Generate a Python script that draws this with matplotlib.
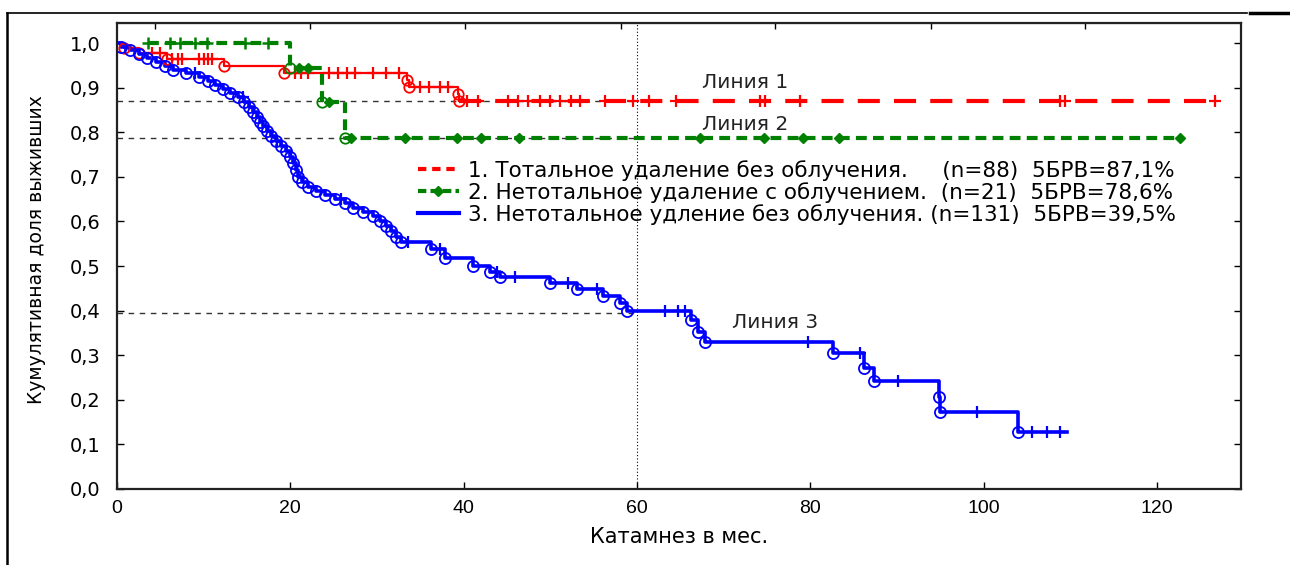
import matplotlib
matplotlib.use("Agg")
import matplotlib.pyplot as plt
from matplotlib.lines import Line2D

# 1. total removal, no irradiation (n=88): event times / survival after event
red_t = [0, 0.8, 2.5, 5.8, 12.3, 19.3, 33.5, 33.7, 39.3, 39.5]
red_s = [1.0, 0.989, 0.977, 0.965, 0.948, 0.933, 0.917, 0.901, 0.886, 0.871]
red_cens = [4.0, 5.0, 6.3, 7.0, 7.5, 9.5, 10.0, 10.5, 11.0, 20.5, 21.2, 22.0, 24.5,
            25.5, 26.5, 27.5, 29.5, 31.0, 32.5, 35.0, 36.0, 37.3, 38.2, 40.4, 41.7,
            45.1, 46.3, 47.4, 48.8, 50.0, 51.1, 52.4, 53.4, 56.3, 59.5, 61.4, 64.5,
            74.2, 74.8, 78.8, 108.8, 109.4, 126.7]
red_end = 126.7

# 2. subtotal removal with irradiation (n=21)
green_t = [3.6, 20.0, 23.7, 26.3]
green_s = [1.0, 0.944, 0.868, 0.786]
green_cens = [3.6, 6.1, 7.3, 9.0, 10.4, 14.8, 17.4, 21.0, 22.0, 24.5, 27.0, 33.2,
              39.2, 42.0, 46.4, 67.3, 74.7, 79.2, 83.3, 122.7]
green_end = 122.7

# 3. subtotal removal, no irradiation (n=131)
blue_t = [0, 0.5, 1.5, 2.5, 3.5, 4.5, 5.5, 6.5, 8.0, 9.5, 10.5, 11.3, 12.2, 13.0,
          14.0, 14.7, 15.2, 15.7, 16.1, 16.5, 16.9, 17.3, 17.8, 18.3, 18.9, 19.5,
          20.0, 20.3, 20.6, 20.9, 21.3, 22.0, 23.0, 24.0, 25.2, 26.3, 27.2, 28.4,
          29.5, 30.4, 31.0, 31.6, 32.2, 32.8, 36.2, 37.8, 41.1, 43.0, 44.2, 50.0,
          53.1, 56.1, 58.0, 58.8, 66.2, 67.0, 67.9, 82.6, 86.2, 87.3, 94.8, 95.0,
          104.0]
blue_s = [1.0, 0.992, 0.984, 0.976, 0.966, 0.957, 0.948, 0.940, 0.932, 0.925,
          0.916, 0.906, 0.897, 0.888, 0.879, 0.868, 0.857, 0.846, 0.835, 0.824,
          0.813, 0.802, 0.791, 0.780, 0.769, 0.758, 0.745, 0.730, 0.715, 0.700,
          0.688, 0.678, 0.668, 0.660, 0.651, 0.641, 0.631, 0.622, 0.612, 0.602,
          0.590, 0.578, 0.566, 0.553, 0.538, 0.518, 0.500, 0.486, 0.475, 0.462,
          0.448, 0.433, 0.417, 0.399, 0.379, 0.352, 0.330, 0.305, 0.271, 0.242,
          0.206, 0.173, 0.128]
blue_cens = [9.0, 14.5, 18.5, 25.8, 33.6, 37.3, 43.8, 45.9, 52.0, 55.4, 63.2,
             64.7, 65.5, 79.7, 85.7, 90.1, 99.2, 105.6, 107.3, 108.8]
blue_end = 109.6

five_year = [0.871, 0.786, 0.395]
line_names = ["Линия 1", "Линия 2", "Линия 3"]
line_pos = [(72.5, 0.912), (72.5, 0.818), (75.9, 0.374)]

labels = ["1. Тотальное удаление без облучения.     (n=88)  5БРВ=87,1%",
          "2. Нетотальное удаление с облучением.  (n=21)  5БРВ=78,6%",
          "3. Нетотальное удление без облучения. (n=131)  5БРВ=39,5%"]

x_ticks = [0, 20, 40, 60, 80, 100, 120]
y_ticks = [i / 10 for i in range(11)]
top_ticks = [4.4, 22.3, 40.2, 58.1, 75.9, 93.9, 111.7]

plt.rcParams["font.family"] = ["DejaVu Sans"]


def level_at(t, s, x):
    lvl = s[0]
    for ti, si in zip(t, s):
        if ti <= x:
            lvl = si
    return lvl


fig = plt.figure(figsize=(12.9, 5.65), dpi=100)
ax = fig.add_axes([117 / 1290, 76 / 565, 1124 / 1290, 466 / 565])

# reference lines
for v in five_year:
    ax.plot([0, 60], [v, v], color="#333333", lw=1.0, ls=(0, (4, 4)), zorder=1)
ax.axvline(60, color="black", lw=0.8, ls=(0, (1, 2)), zorder=1)

# red
ax.step(red_t, red_s, where="post", color="red", lw=1.6, zorder=3)
ax.plot([red_t[-1], red_end], [red_s[-1], red_s[-1]], color="red", lw=3,
        ls=(0, (5.3, 3.4)), zorder=3)
ax.plot(red_t[1:], red_s[1:], "o", mfc="none", mec="red", ms=7.5, mew=1.3, zorder=4)
ax.plot(red_cens, [level_at(red_t, red_s, c) for c in red_cens], "+", color="red",
        ms=9, mew=1.6, zorder=4)

# green
ax.step(green_t + [green_end], green_s + [green_s[-1]], where="post", color="green",
        lw=3, ls=(0, (2.6, 1.5)), zorder=3)
ax.plot(green_t[1:], green_s[1:], "o", mfc="none", mec="green", ms=7.5, mew=1.3, zorder=4)
g_early = [c for c in green_cens if c < 20]
g_late = [c for c in green_cens if c >= 20]
ax.plot(g_early, [level_at(green_t, green_s, c) for c in g_early], "+", color="green",
        ms=9, mew=1.8, zorder=4)
ax.plot(g_late, [level_at(green_t, green_s, c) for c in g_late], "D", color="green",
        ms=5, zorder=4)

# blue
ax.step(blue_t + [blue_end], blue_s + [blue_s[-1]], where="post", color="blue",
        lw=2.6, zorder=3)
ax.plot(blue_t[1:], blue_s[1:], "o", mfc="none", mec="blue", ms=8, mew=1.3, zorder=4)
ax.plot(blue_cens, [level_at(blue_t, blue_s, c) for c in blue_cens], "+", color="blue",
        ms=9, mew=1.6, zorder=4)

for name, (x, y) in zip(line_names, line_pos):
    ax.text(x, y, name, fontsize=14.5, ha="center", va="center", color="#222222")

handles = [
    Line2D([], [], color="red", lw=3, ls=(0, (2.0, 1.4))),
    Line2D([], [], color="green", lw=3, ls=(0, (2.0, 1.0)), marker="D", ms=5,
           markevery=[1]),
    Line2D([], [], color="blue", lw=3),
]
ax.legend(handles, labels, loc="upper left", bbox_to_anchor=(418 / 1290, 1 - 160 / 565),
          bbox_transform=fig.transFigure, frameon=False, fontsize=15.5, borderpad=0,
          borderaxespad=0, handlelength=1.9, handletextpad=0.4, labelspacing=0.05)

ax.set_xlim(0, 129.7)
ax.set_ylim(0, 1.045)
ax.set_xticks(x_ticks)
ax.set_xticklabels([str(v) for v in x_ticks], family="Liberation Sans", fontsize=14)
ax.set_yticks(y_ticks)
ax.set_yticklabels([f"{v:.1f}".replace(".", ",") for v in y_ticks], fontsize=14)
ax.tick_params(direction="in", length=5, width=1, right=True, pad=8)
ax.tick_params(axis="y", pad=12)

top = ax.secondary_xaxis("top")
top.set_xticks(top_ticks)
top.set_xticklabels([])
top.tick_params(direction="in", length=4, width=1)

for sp in ax.spines.values():
    sp.set_linewidth(1.6)
    sp.set_color("#222222")

fig.text(679 / 1290, 1 - 537 / 565, "Катамнез в мес.", fontsize=15,
         ha="center", va="center")
fig.text(37 / 1290, 1 - 250 / 565, "Кумулятивная доля выживших",
         fontsize=13.5, ha="center", va="center", rotation=90)

# page frame fragments
fig.add_artist(Line2D([7 / 1290, 1247 / 1290], [1 - 12.7 / 565] * 2, color="black", lw=1.2))
fig.add_artist(Line2D([1250 / 1290, 1], [1 - 12.7 / 565] * 2, color="black", lw=2.5))
fig.add_artist(Line2D([7 / 1290] * 2, [0, 1 - 12.7 / 565], color="black", lw=1.8))

fig.savefig("out.png", dpi=100)
